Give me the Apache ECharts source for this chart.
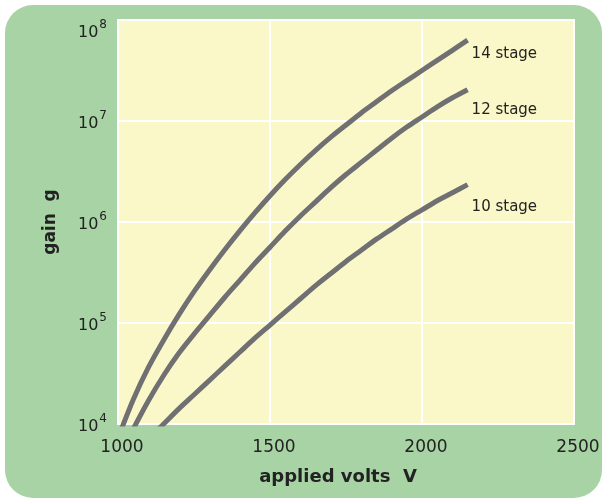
<!DOCTYPE html>
<html>
<head>
<meta charset="utf-8">
<script src="https://cdn.jsdelivr.net/npm/echarts@6/dist/echarts.min.js"></script>
<style>
html,body{margin:0;padding:0;background:#fff;}
#main{width:605px;height:501px;}
</style>
</head>
<body>
<div id="main"></div>
<script>
// applied volts (V) and gain exponents (log10 g);
// the first point of each curve sits just under 10^4 and is clipped by the axis
const volts14 = [1000, 1050, 1100, 1150, 1200, 1250, 1300, 1350, 1400, 1450, 1500, 1550, 1600, 1650, 1700, 1750, 1800, 1850, 1900, 1950, 2000, 2050, 2100, 2150]
const exp14 = [3.86, 4.24, 4.56, 4.83, 5.08, 5.31, 5.52, 5.72, 5.91, 6.09, 6.26, 6.42, 6.57, 6.71, 6.84, 6.96, 7.08, 7.19, 7.30, 7.40, 7.50, 7.60, 7.70, 7.80]

const volts12 = [1050, 1100, 1150, 1200, 1250, 1300, 1350, 1400, 1450, 1500, 1550, 1600, 1650, 1700, 1750, 1800, 1850, 1900, 1950, 2000, 2050, 2100, 2150]
const exp12 = [3.95, 4.23, 4.48, 4.70, 4.89, 5.07, 5.25, 5.42, 5.59, 5.75, 5.91, 6.06, 6.20, 6.34, 6.47, 6.59, 6.71, 6.83, 6.94, 7.04, 7.14, 7.23, 7.31]

const volts10 = [1100, 1150, 1200, 1250, 1300, 1350, 1400, 1450, 1500, 1550, 1600, 1650, 1700, 1750, 1800, 1850, 1900, 1950, 2000, 2050, 2100, 2150]
const exp10 = [3.85, 4.00, 4.15, 4.29, 4.43, 4.57, 4.71, 4.85, 4.98, 5.11, 5.24, 5.37, 5.49, 5.61, 5.72, 5.83, 5.93, 6.03, 6.12, 6.21, 6.29, 6.37]

const xTicks = [1000, 1500, 2000, 2500]
const yTickExps = [4, 5, 6, 7, 8]

function pairs(xs, es){
  return xs.map((v,i)=>[v, Math.pow(10, es[i])])
}

let myChart = echarts.init(document.getElementById("main"))

const lineColor = "#707072"
const font = "DejaVu Sans"

function stage(name, xs, es, dy){
  return {
    name:name,
    type:"line",
    data:pairs(xs, es),
    smooth:0.3,
    clip:true,
    showSymbol:false,
    symbol:"none",
    lineStyle:{ color:lineColor, width:5, cap:"butt" },
    endLabel:{
      show:true,
      formatter:name,
      color:"#222",
      fontFamily:font,
      fontSize:15,
      offset:[-4, dy],
    },
  }
}

myChart.setOption({
  animation:false,
  backgroundColor:"#fff",
  graphic:[
    {
      type:"rect",
      z:-10,
      shape:{ x:5, y:5, width:597, height:493, r:28 },
      style:{ fill:"#a8d4a5" },
    },
  ],
  grid:{
    left:118,
    right:31,
    top:20,
    bottom:77,
    show:true,
    backgroundColor:"#faf8c8",
    borderColor:"#fff",
    borderWidth:2,
  },
  xAxis:{
    type:"value",
    min:xTicks[0],
    max:xTicks[xTicks.length-1],
    interval:500,
    name:"applied volts  V",
    nameLocation:"middle",
    nameGap:44,
    nameTextStyle:{ color:"#222", fontFamily:font, fontSize:18, fontWeight:"bold", padding:[0,16,0,0] },
    axisLine:{ show:true, lineStyle:{ color:"#fff", width:2 } },
    axisTick:{ show:false },
    splitLine:{ show:true, lineStyle:{ color:"#fff", width:2 } },
    axisLabel:{
      color:"#222",
      fontFamily:font,
      fontSize:17,
      margin:15,
      padding:[0,0,0,8],
      formatter:(v)=> xTicks.includes(v) ? String(v) : "",
    },
  },
  yAxis:{
    type:"log",
    logBase:10,
    min:Math.pow(10, yTickExps[0]),
    max:Math.pow(10, yTickExps[yTickExps.length-1]),
    name:"gain  g",
    nameLocation:"middle",
    nameGap:59,
    nameTextStyle:{ color:"#222", fontFamily:font, fontSize:17, fontWeight:"bold" },
    axisLine:{ show:true, lineStyle:{ color:"#fff", width:2 } },
    axisTick:{ show:false },
    splitLine:{ show:true, lineStyle:{ color:"#fff", width:2 } },
    axisLabel:{
      margin:11,
      formatter:(v)=>{
        let e = Math.round(Math.log10(v))
        if(e === yTickExps[yTickExps.length-1]){
          return "{gap| }\n{b|10}{s|" + e + "}"
        }
        return "{b|10}{s|" + e + "}"
      },
      rich:{
        gap:{ fontSize:10, lineHeight:20 },
        b:{ color:"#222", fontFamily:font, fontSize:16, lineHeight:22, verticalAlign:"bottom" },
        s:{ color:"#222", fontFamily:font, fontSize:12, lineHeight:22, verticalAlign:"top", padding:[0,0,6,1] },
      },
    },
  },
  series:[
    stage("14 stage", volts14, exp14, 14),
    stage("12 stage", volts12, exp12, 20),
    stage("10 stage", volts10, exp10, 22),
  ],
})
</script>
</body>
</html>
